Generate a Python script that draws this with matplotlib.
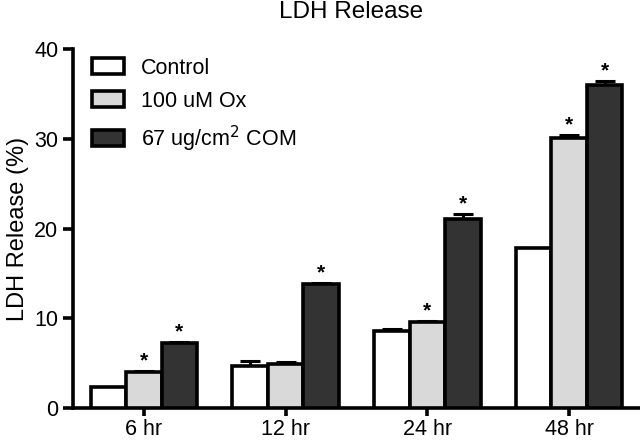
import numpy as np
import matplotlib
matplotlib.use('Agg')
import matplotlib.pyplot as plt

plt.rcParams['font.family'] = ['Liberation Sans', 'DejaVu Sans']

groups = ['6 hr', '12 hr', '24 hr', '48 hr']
series = ['Control', '100 uM Ox', '67 ug/cm$^2$ COM']
control = [2.4, 4.7, 8.6, 17.8]
ox = [4.0, 4.9, 9.6, 30.05]
com = [7.2, 13.8, 21.05, 35.95]
control_err = [0.0, 0.6, 0.2, 0.0]
ox_err = [0.15, 0.2, 0.15, 0.4]
com_err = [0.15, 0.1, 0.6, 0.5]
control_sig = [False, False, False, False]
ox_sig = [True, False, True, True]
com_sig = [True, True, True, True]

colors = ['white', '#d9d9d9', '#333333']
values = [control, ox, com]
errors = [control_err, ox_err, com_err]
sigs = [control_sig, ox_sig, com_sig]

fig = plt.figure(figsize=(6.4, 4.46), dpi=100)
ax = fig.add_axes([0.114, 0.085, 0.886, 0.805])

x = np.arange(len(groups))
w = 0.25
for i in range(3):
    pos = x + (i - 1) * w
    ax.bar(pos, values[i], width=w, color=colors[i], edgecolor='black',
           linewidth=2.6, label=series[i], zorder=3)
    err = np.array(errors[i])
    ax.errorbar(pos, values[i], yerr=[np.zeros_like(err), err], fmt='none',
                ecolor='black', elinewidth=2.2, capsize=7, capthick=2.2, zorder=2)
    for p, v, e, s in zip(pos, values[i], err, sigs[i]):
        if s:
            ax.text(p, v + e + 0.05, '*', ha='center', va='bottom',
                    fontsize=15, fontweight='bold')

ax.set_xlim(-0.5, 3.5)
ax.set_ylim(0, 40)
ax.set_yticks([0, 10, 20, 30, 40])
ax.set_xticks(x)
ax.set_xticklabels(groups)
ax.tick_params(axis='both', direction='out', width=2.6, length=7, labelsize=15.5)
ax.tick_params(axis='x', length=6, pad=2)
ax.spines['top'].set_visible(False)
ax.spines['right'].set_visible(False)
ax.spines['left'].set_linewidth(2.6)
ax.spines['bottom'].set_linewidth(2.6)
ax.set_ylabel('LDH Release (%)', fontsize=17, labelpad=4)
fig.text(0.549, 0.973, 'LDH Release', fontsize=17.5, ha='center', va='center')

leg = ax.legend(loc='upper left', bbox_to_anchor=(0.0, 1.03), frameon=False,
                fontsize=15.5, handlelength=1.45, handleheight=0.75,
                labelspacing=0.55, handletextpad=0.8)
for h in leg.legend_handles:
    h.set_linewidth(2.6)

fig.savefig('out.png', dpi=100)
